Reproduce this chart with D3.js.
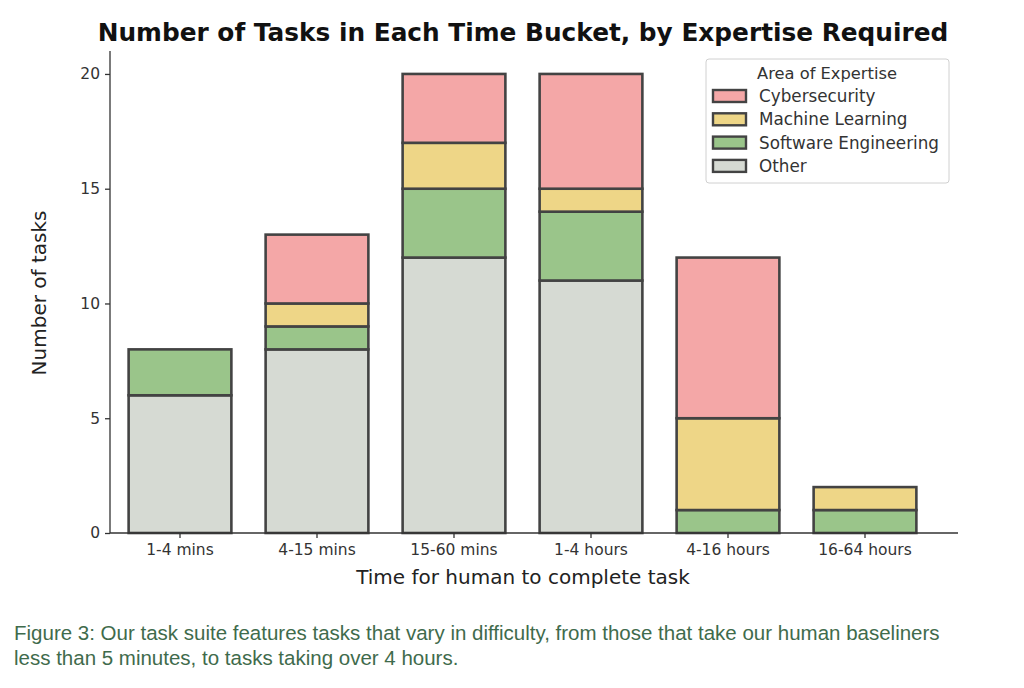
<!DOCTYPE html>
<html><head><meta charset="utf-8">
<script src="https://cdn.jsdelivr.net/npm/d3@7"></script>
<style>body{margin:0;background:#fff;} svg{display:block;}</style>
</head><body>
<script>
const categories = ["1-4 mins","4-15 mins","15-60 mins","1-4 hours","4-16 hours","16-64 hours"];
const seriesNames = ["Other","Software Engineering","Machine Learning","Cybersecurity"];
const other = [6, 8, 12, 11, 0, 0];
const softwareEngineering = [2, 1, 3, 3, 1, 1];
const machineLearning = [0, 1, 2, 1, 4, 1];
const cybersecurity = [0, 3, 3, 5, 7, 0];
const yTicks = [0, 5, 10, 15, 20];
const colors = {"Other":"#d6dad3","Software Engineering":"#9ac58a","Machine Learning":"#eed687","Cybersecurity":"#f4a7a7"};
const legendOrder = ["Cybersecurity","Machine Learning","Software Engineering","Other"];

const W=1024,H=688;
const svg=d3.select("body").append("svg").attr("width",W).attr("height",H);
const font="'DejaVu Sans', sans-serif";

const rows = categories.map((c,i)=>({cat:c,"Other":other[i],"Software Engineering":softwareEngineering[i],"Machine Learning":machineLearning[i],"Cybersecurity":cybersecurity[i]}));
const stack = d3.stack().keys(seriesNames)(rows);

const x = d3.scaleBand().domain(categories).range([111.5, 933.5]).paddingInner(0.25).paddingOuter(0.125);
const y = d3.scaleLinear().domain([0,21]).range([533,51]);

// title
svg.append("text").attr("x",523).attr("y",41).attr("text-anchor","middle")
  .attr("font-family",font).attr("font-weight","bold").attr("font-size",24.8).attr("fill","#111")
  .text("Number of Tasks in Each Time Bucket, by Expertise Required");

// bars
const g = svg.append("g");
stack.forEach(layer=>{
  g.selectAll(null).data(layer.filter(d=>d[1]-d[0]>0)).enter().append("rect")
   .attr("x",d=>x(d.data.cat)).attr("width",x.bandwidth())
   .attr("y",d=>y(d[1])).attr("height",d=>y(d[0])-y(d[1]))
   .attr("fill",colors[layer.key]).attr("stroke","#434343").attr("stroke-width",2.6);
});

// axes
const yAxis = svg.append("g").attr("transform","translate(110,0)")
  .call(d3.axisLeft(y).tickValues(yTicks).tickSize(5).tickPadding(5));
yAxis.select(".domain").remove();
const xAxis = svg.append("g").attr("transform","translate(0,533)")
  .call(d3.axisBottom(x).tickSize(5).tickPadding(6));
xAxis.select(".domain").remove();
[yAxis,xAxis].forEach(a=>{
  a.selectAll("line").attr("stroke","#333").attr("stroke-width",1.3);
  a.selectAll("text").attr("font-family",font).attr("font-size",15.5).attr("fill","#333");
});
svg.append("line").attr("x1",110).attr("x2",110).attr("y1",y(21)).attr("y2",533).attr("stroke","#333").attr("stroke-width",1.3);
svg.append("line").attr("x1",110).attr("x2",958).attr("y1",533).attr("y2",533).attr("stroke","#333").attr("stroke-width",1.3);

// axis labels
svg.append("text").attr("x",523).attr("y",584).attr("text-anchor","middle")
  .attr("font-family",font).attr("font-size",20).attr("fill","#222").text("Time for human to complete task");
svg.append("text").attr("transform","translate(46,293) rotate(-90)").attr("text-anchor","middle")
  .attr("font-family",font).attr("font-size",20).attr("fill","#222").text("Number of tasks");

// legend
const lg = svg.append("g");
lg.append("rect").attr("x",706).attr("y",59).attr("width",243).attr("height",124).attr("rx",3)
  .attr("fill","#fff").attr("stroke","#d0d0d0").attr("stroke-width",1);
lg.append("text").attr("x",827).attr("y",79).attr("text-anchor","middle")
  .attr("font-family",font).attr("font-size",16.3).attr("fill","#333").text("Area of Expertise");
legendOrder.forEach((k,i)=>{
  const yy = 96 + i*23.3;
  lg.append("rect").attr("x",713).attr("y",yy-6).attr("width",33).attr("height",12)
    .attr("fill",colors[k]).attr("stroke","#434343").attr("stroke-width",2.4);
  lg.append("text").attr("x",759).attr("y",yy+6).attr("font-family",font).attr("font-size",16.8)
    .attr("fill","#333").text(k);
});

// caption
const cap = svg.append("text").attr("font-family","'Liberation Sans', Arial, sans-serif").attr("font-size",20.5).attr("fill","#3f6b4c");
cap.append("tspan").attr("x",14).attr("y",640).text("Figure 3: Our task suite features tasks that vary in difficulty, from those that take our human baseliners");
cap.append("tspan").attr("x",14).attr("y",665).text("less than 5 minutes, to tasks taking over 4 hours.");
</script>
</body></html>
